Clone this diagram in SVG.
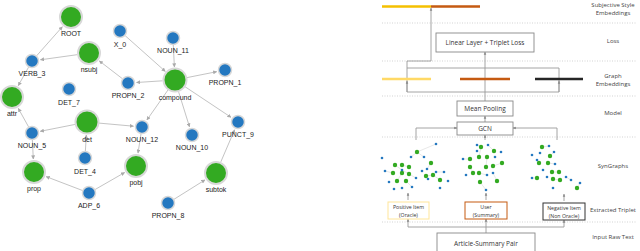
<svg xmlns="http://www.w3.org/2000/svg" width="640" height="251" viewBox="0 0 640 251">
<style>
.e{stroke:#c4c4c4;stroke-width:1;fill:none;marker-end:url(#a)}
.g{fill:#33aa22;stroke:#d8d8d8;stroke-width:2}
.b{fill:#2478c0;stroke:#d8d8d8;stroke-width:1.5}
.t{font-family:"Liberation Sans",Arial,sans-serif;font-size:7px;fill:#222;text-anchor:middle}
.r{font-family:"Open Sans","Noto Sans",sans-serif;font-size:6px;fill:#444;text-anchor:middle}
.bx{font-family:"Open Sans","Noto Sans",sans-serif;font-size:6.5px;fill:#333;text-anchor:middle}
.sm{font-family:"Open Sans","Noto Sans",sans-serif;font-size:5.2px;fill:#333;text-anchor:middle}
.dl{stroke:#c8c8c8;stroke-width:0.8;stroke-dasharray:1 1.5;fill:none}
.c{stroke:#9a9a9a;stroke-width:0.9;fill:none}
.ca{stroke:#9a9a9a;stroke-width:0.9;fill:none;marker-end:url(#k)}
.sg{fill:#33aa22}
.sb{fill:#2478c0}
.se{stroke:#d0d0d0;stroke-width:0.5}
</style>
<defs>
<marker id="a" viewBox="0 0 10 10" refX="9" refY="5" markerWidth="4" markerHeight="4" orient="auto"><path d="M0,0L10,5L0,10z" fill="#aaa"/></marker>
<marker id="k" viewBox="0 0 10 10" refX="9" refY="5" markerWidth="3.5" markerHeight="3.5" orient="auto"><path d="M0,1L10,5L0,9z" fill="#888"/></marker>
</defs>
<rect width="640" height="251" fill="#fff"/>
<g id="connectors">
<line class="e" x1="36.6" y1="55.8" x2="62.4" y2="26.7"/>
<line class="e" x1="77.1" y1="54.7" x2="40.4" y2="59.8"/>
<line class="e" x1="122.4" y1="78.7" x2="99.3" y2="60.9"/>
<line class="e" x1="162.5" y1="80.8" x2="136.5" y2="82.5"/>
<line class="e" x1="125.2" y1="35.7" x2="165.3" y2="71.4"/>
<line class="e" x1="173.3" y1="45" x2="174.4" y2="67"/>
<line class="e" x1="187" y1="77.6" x2="216.7" y2="71.7"/>
<line class="e" x1="185" y1="86.7" x2="231" y2="117.3"/>
<line class="e" x1="178.5" y1="91.5" x2="189.5" y2="126.9"/>
<line class="e" x1="168.1" y1="89.8" x2="146.9" y2="120"/>
<line class="e" x1="28.6" y1="67.1" x2="18.3" y2="85.6"/>
<line class="e" x1="28.6" y1="126.9" x2="18.3" y2="108.4"/>
<line class="e" x1="75.2" y1="124.4" x2="40.3" y2="131.3"/>
<line class="e" x1="99" y1="123.1" x2="133.5" y2="126.2"/>
<line class="e" x1="85.4" y1="151" x2="86.3" y2="135"/>
<line class="e" x1="32.4" y1="140" x2="33.3" y2="159"/>
<line class="e" x1="82.5" y1="190.5" x2="46.1" y2="176.6"/>
<line class="e" x1="95.1" y1="189.5" x2="124.7" y2="172.5"/>
<line class="e" x1="141" y1="133.9" x2="138" y2="153.1"/>
<line class="e" x1="220.8" y1="161.9" x2="234.6" y2="129.8"/>
<line class="e" x1="174" y1="199.3" x2="205" y2="179.9"/>
</g>
<g id="ROOT"><circle class="g" cx="71" cy="17" r="11"/><text class="t" x="71" y="36">ROOT</text></g>
<g id="X_0"><circle class="b" cx="120" cy="31" r="6.5"/><text class="t" x="120" y="47">X_0</text></g>
<g id="NOUN_11"><circle class="b" cx="173" cy="38" r="6.5"/><text class="t" x="173" y="53">NOUN_11</text></g>
<g id="VERB_3"><circle class="b" cx="32" cy="61" r="6.5"/><text class="t" x="32" y="76">VERB_3</text></g>
<g id="nsubj"><circle class="g" cx="89" cy="53" r="11"/><text class="t" x="89" y="72">nsubj</text></g>
<g id="PROPN_2"><circle class="b" cx="128" cy="83" r="6.5"/><text class="t" x="128" y="98">PROPN_2</text></g>
<g id="compound"><circle class="g" cx="175" cy="80" r="11.5"/><text class="t" x="175" y="100">compound</text></g>
<g id="PROPN_1"><circle class="b" cx="225" cy="70" r="6.5"/><text class="t" x="225" y="85">PROPN_1</text></g>
<g id="DET_7"><circle class="b" cx="69" cy="89" r="6.5"/><text class="t" x="69" y="105">DET_7</text></g>
<g id="attr"><circle class="g" cx="12" cy="97" r="11"/><text class="t" x="12" y="116">attr</text></g>
<g id="det"><circle class="g" cx="87" cy="122" r="11.5"/><text class="t" x="87" y="142">det</text></g>
<g id="NOUN_12"><circle class="b" cx="142" cy="127" r="6.5"/><text class="t" x="142" y="142">NOUN_12</text></g>
<g id="NOUN_10"><circle class="b" cx="192" cy="135" r="6.5"/><text class="t" x="192" y="150">NOUN_10</text></g>
<g id="PUNCT_9"><circle class="b" cx="238" cy="122" r="6.5"/><text class="t" x="238" y="137">PUNCT_9</text></g>
<g id="NOUN_5"><circle class="b" cx="32" cy="133" r="6.5"/><text class="t" x="32" y="148">NOUN_5</text></g>
<g id="DET_4"><circle class="b" cx="85" cy="158" r="6.5"/><text class="t" x="85" y="174">DET_4</text></g>
<g id="prop"><circle class="g" cx="34" cy="172" r="11"/><text class="t" x="34" y="191">prop</text></g>
<g id="pobj"><circle class="g" cx="136" cy="166" r="11"/><text class="t" x="136" y="185">pobj</text></g>
<g id="ADP_6"><circle class="b" cx="89" cy="193" r="6.5"/><text class="t" x="89" y="208">ADP_6</text></g>
<g id="subtok"><circle class="g" cx="216" cy="173" r="11"/><text class="t" x="216" y="192">subtok</text></g>
<g id="PROPN_8"><circle class="b" cx="168" cy="203" r="6.5"/><text class="t" x="168" y="218">PROPN_8</text></g>

<g id="separators">
<line class="dl" x1="382" y1="23" x2="636" y2="23"/>
<line class="dl" x1="382" y1="61" x2="636" y2="61"/>
<line class="dl" x1="382" y1="96" x2="636" y2="96"/>
<line class="dl" x1="382" y1="137" x2="636" y2="137"/>
<line class="dl" x1="382" y1="222" x2="636" y2="222"/>
</g>
<g id="layer-labels">
<text class="r" x="613" y="7">Subjective Style</text>
<text class="r" x="613" y="15">Embeddings</text>
<text class="r" x="613" y="43">Loss</text>
<text class="r" x="613" y="78">Graph</text>
<text class="r" x="613" y="86">Embeddings</text>
<text class="r" x="613" y="115">Model</text>
<text class="r" x="613" y="168">SynGraphs</text>
<text class="r" x="613" y="212">Extracted Triplet</text>
<text class="r" x="613" y="239">Input Raw Text</text>
</g>
<g id="right-connectors">
<path class="ca" d="M431,61V8"/>
<path class="c" d="M407,61H431"/>
<path class="c" d="M407,61V92H559V68H407"/>
<path class="ca" d="M407,92V81"/>
<path class="ca" d="M559,92V81"/>
<path class="ca" d="M485,101V52"/>
<path class="ca" d="M485,122V116"/>
<path class="ca" d="M416,140V128H457"/>
<path class="ca" d="M557,140V128H513"/>
<path class="ca" d="M485,140V135"/>
<path class="ca" d="M408,200V193"/>
<path class="ca" d="M486,200V193"/>
<path class="ca" d="M564,201V194"/>
<path class="c" d="M408,227H564"/>
<path class="ca" d="M408,227V219"/>
<path class="ca" d="M486,233V219"/>
<path class="ca" d="M564,227V220"/>
</g>
<g id="subjective-embeddings">
<line x1="382" y1="6.5" x2="431" y2="6.5" stroke="#f5c000" stroke-width="2.5"/>
<line x1="431" y1="6.5" x2="480" y2="6.5" stroke="#c55a11" stroke-width="2.5"/>
</g>
<g id="linear-loss"><rect x="436" y="33" width="98" height="19" fill="#fff" stroke="#888" stroke-width="0.9"/><text class="bx" x="485" y="45">Linear Layer + Triplet Loss</text></g>
<g id="graph-embeddings">
<line x1="382" y1="79" x2="431" y2="79" stroke="#ffd966" stroke-width="2.5"/>
<line x1="460" y1="79" x2="510" y2="79" stroke="#c55a11" stroke-width="2.5"/>
<line x1="535" y1="79" x2="583" y2="79" stroke="#262626" stroke-width="2.5"/>
</g>
<g id="mean-pooling"><rect x="457" y="101" width="56" height="15" fill="#fff" stroke="#888" stroke-width="0.9"/><text class="bx" x="485" y="111">Mean Pooling</text></g>
<g id="gcn"><rect x="457" y="122" width="56" height="13" fill="#fff" stroke="#888" stroke-width="0.9"/><text class="bx" x="485" y="131">GCN</text></g>
<g id="syngraph-positive">
<g class="se">
<line x1="417" y1="152" x2="411" y2="157"/><line x1="417" y1="152" x2="424" y2="157"/><line x1="417" y1="152" x2="436" y2="144"/>
<line x1="395" y1="165" x2="402" y2="170"/><line x1="402" y1="165" x2="409" y2="167"/><line x1="402" y1="170" x2="409" y2="174"/>
<line x1="402" y1="173" x2="397" y2="181"/><line x1="406" y1="181" x2="412" y2="187"/><line x1="431" y1="163" x2="427" y2="169"/>
<line x1="426" y1="176" x2="433" y2="175"/><line x1="433" y1="175" x2="440" y2="180"/><line x1="436" y1="172" x2="444" y2="172"/>
<line x1="393" y1="173" x2="385" y2="171"/><line x1="409" y1="174" x2="416" y2="178"/>
</g>
<circle class="sg" cx="417" cy="152" r="2.2"/><circle class="sg" cx="431" cy="163" r="2.2"/><circle class="sg" cx="395" cy="165" r="2.2"/>
<circle class="sg" cx="402" cy="165" r="2.2"/><circle class="sg" cx="409" cy="167" r="2.2"/><circle class="sg" cx="393" cy="173" r="2.2"/>
<circle class="sg" cx="402" cy="173" r="2.2"/><circle class="sg" cx="409" cy="174" r="2.2"/><circle class="sg" cx="397" cy="181" r="2.2"/>
<circle class="sg" cx="406" cy="181" r="2.2"/><circle class="sg" cx="426" cy="176" r="2.2"/><circle class="sg" cx="433" cy="175" r="2.2"/>
<circle class="sg" cx="440" cy="180" r="2.2"/>
<circle class="sb" cx="436" cy="144" r="1.3"/><circle class="sb" cx="411" cy="157" r="1.3"/><circle class="sb" cx="424" cy="157" r="1.3"/>
<circle class="sb" cx="382" cy="158" r="1.3"/><circle class="sb" cx="385" cy="171" r="1.3"/><circle class="sb" cx="416" cy="178" r="1.3"/>
<circle class="sb" cx="389" cy="182" r="1.3"/><circle class="sb" cx="394" cy="189" r="1.3"/><circle class="sb" cx="402" cy="188" r="1.3"/>
<circle class="sb" cx="412" cy="187" r="1.3"/><circle class="sb" cx="427" cy="169" r="1.3"/><circle class="sb" cx="422" cy="171" r="1.3"/>
<circle class="sb" cx="436" cy="172" r="1.3"/><circle class="sb" cx="444" cy="172" r="1.3"/><circle class="sb" cx="448" cy="181" r="1.3"/>
<circle class="sb" cx="440" cy="188" r="1.3"/><circle class="sb" cx="428" cy="179" r="1.3"/><circle class="sb" cx="402" cy="170" r="1.3"/>
</g>
<g id="syngraph-user">
<g class="se">
<line x1="481" y1="147" x2="477" y2="145"/><line x1="481" y1="147" x2="479" y2="157"/><line x1="494" y1="151" x2="488" y2="145"/>
<line x1="487" y1="157" x2="486" y2="167"/><line x1="470" y1="159" x2="463" y2="159"/><line x1="470" y1="167" x2="473" y2="173"/>
<line x1="479" y1="173" x2="487" y2="175"/><line x1="493" y1="166" x2="502" y2="163"/><line x1="480" y1="182" x2="486" y2="190"/>
<line x1="497" y1="181" x2="493" y2="173"/>
</g>
<circle class="sg" cx="481" cy="147" r="2.2"/><circle class="sg" cx="494" cy="151" r="2.2"/><circle class="sg" cx="479" cy="157" r="2.2"/>
<circle class="sg" cx="487" cy="157" r="2.2"/><circle class="sg" cx="470" cy="159" r="2.2"/><circle class="sg" cx="470" cy="167" r="2.2"/>
<circle class="sg" cx="473" cy="173" r="2.2"/><circle class="sg" cx="479" cy="173" r="2.2"/><circle class="sg" cx="486" cy="167" r="2.2"/>
<circle class="sg" cx="493" cy="166" r="2.2"/><circle class="sg" cx="502" cy="163" r="2.2"/><circle class="sg" cx="497" cy="181" r="2.2"/>
<circle class="sg" cx="480" cy="182" r="2.2"/>
<circle class="sb" cx="477" cy="145" r="1.3"/><circle class="sb" cx="488" cy="145" r="1.3"/><circle class="sb" cx="501" cy="152" r="1.3"/>
<circle class="sb" cx="463" cy="159" r="1.3"/><circle class="sb" cx="466" cy="175" r="1.3"/><circle class="sb" cx="487" cy="175" r="1.3"/>
<circle class="sb" cx="493" cy="173" r="1.3"/><circle class="sb" cx="495" cy="157" r="1.3"/><circle class="sb" cx="486" cy="190" r="1.3"/>
<circle class="sb" cx="477" cy="151" r="1.3"/>
</g>
<g id="syngraph-negative">
<g class="se">
<line x1="542" y1="147" x2="549" y2="146"/><line x1="550" y1="156" x2="554" y2="152"/><line x1="539" y1="163" x2="537" y2="160"/>
<line x1="548" y1="163" x2="555" y2="164"/><line x1="552" y1="172" x2="559" y2="172"/><line x1="553" y1="179" x2="560" y2="180"/>
<line x1="537" y1="178" x2="532" y2="178"/><line x1="566" y1="177" x2="571" y2="180"/><line x1="577" y1="188" x2="580" y2="183"/>
</g>
<circle class="sg" cx="542" cy="147" r="2.2"/><circle class="sg" cx="550" cy="156" r="2.2"/><circle class="sg" cx="539" cy="163" r="2.2"/>
<circle class="sg" cx="548" cy="163" r="2.2"/><circle class="sg" cx="552" cy="172" r="2.2"/><circle class="sg" cx="559" cy="172" r="2.2"/>
<circle class="sg" cx="537" cy="178" r="2.2"/><circle class="sg" cx="560" cy="180" r="2.2"/><circle class="sg" cx="553" cy="179" r="2.2"/>
<circle class="sg" cx="577" cy="188" r="2.2"/>
<circle class="sb" cx="549" cy="146" r="1.3"/><circle class="sb" cx="554" cy="152" r="1.3"/><circle class="sb" cx="540" cy="153" r="1.3"/>
<circle class="sb" cx="532" cy="155" r="1.3"/><circle class="sb" cx="537" cy="160" r="1.3"/><circle class="sb" cx="555" cy="164" r="1.3"/>
<circle class="sb" cx="543" cy="170" r="1.3"/><circle class="sb" cx="532" cy="178" r="1.3"/><circle class="sb" cx="547" cy="177" r="1.3"/>
<circle class="sb" cx="566" cy="177" r="1.3"/><circle class="sb" cx="571" cy="180" r="1.3"/><circle class="sb" cx="580" cy="183" r="1.3"/>
<circle class="sb" cx="553" cy="188" r="1.3"/>
</g>
<g id="positive-item"><rect x="388" y="202" width="41" height="17" fill="#fff" stroke="#ffe699" stroke-width="1"/><text class="sm" x="408.5" y="209">Positive Item</text><text class="sm" x="408.5" y="216.5">(Oracle)</text></g>
<g id="user"><rect x="465" y="202" width="42" height="17" fill="#fff" stroke="#c55a11" stroke-width="1"/><text class="sm" x="486" y="209">User</text><text class="sm" x="486" y="216.5">(Summary)</text></g>
<g id="negative-item"><rect x="543" y="203" width="42" height="17" fill="#fff" stroke="#333" stroke-width="1"/><text class="sm" x="564" y="210">Negative Item</text><text class="sm" x="564" y="217.5">(Non Oracle)</text></g>
<g id="article-summary"><rect x="437" y="233" width="98" height="22" fill="#fff" stroke="#888" stroke-width="0.9"/><text class="bx" x="486" y="246" font-size="7">Article-Summary Pair</text></g>
</svg>
